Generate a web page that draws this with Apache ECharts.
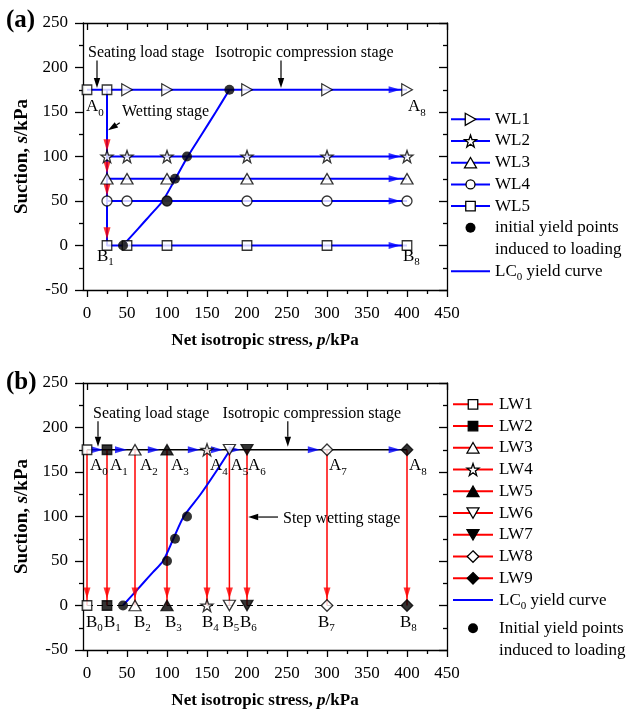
<!DOCTYPE html>
<html>
<head>
<meta charset="utf-8">
<script src="https://cdn.jsdelivr.net/npm/echarts@6/dist/echarts.min.js"></script>
<style>
  html, body { margin: 0; padding: 0; background: #fff; }
  #chart { width: 627px; height: 712px; }
</style>
</head>
<body>
<div id="chart"></div>
<script>
// ---------------- data ----------------
// tick values of the net isotropic stress axis (kPa)
const xMajorTicks = [0, 50, 100, 150, 200, 250, 300, 350, 400, 450];
const xMinorTicks = [25, 75, 125, 175, 225, 275, 325, 375, 425];

// (a) seating load stage common to all WL tests
const seatingP = [0, 25];
const seatingS = [175, 175];
// (a) wetting then isotropic loading paths
const wl1P = [25, 50, 100, 200, 300, 400];
const wl1S = [175, 175, 175, 175, 175, 175];
const wl2P = [25, 25, 50, 100, 200, 300, 400];
const wl2S = [175, 100, 100, 100, 100, 100, 100];
const wl3P = [25, 25, 50, 100, 200, 300, 400];
const wl3S = [175, 75, 75, 75, 75, 75, 75];
const wl4P = [25, 25, 50, 100, 200, 300, 400];
const wl4S = [175, 50, 50, 50, 50, 50, 50];
const wl5P = [25, 25, 50, 100, 200, 300, 400];
const wl5S = [175, 0, 0, 0, 0, 0, 0];
// (a) direction arrows (arrow tip positions)
const wetArrowP_a = [25, 25, 25, 25];
const wetArrowS_a = [106, 81, 56, 7];
const loadArrowP_a = [392, 392, 392, 392, 392];
const loadArrowS_a = [175, 100, 75, 50, 0];
// (a) initial yield points and LC0 yield curve
const yieldP_a = [45, 100, 110, 125, 178];
const yieldS_a = [0, 50, 75, 100, 175];
const lcP_a = [45, 57.5, 70, 82.5, 94.5, 110.5, 126, 143.5, 161, 178];
const lcS_a = [0, 12.5, 25, 37.5, 50, 75, 100, 125, 150, 175];

// (b) loading to a target stress, then step wetting (LW1 ... LW9)
const lwP = [0, 25, 60, 150, 100, 178, 200, 300, 400];
const lwStartS = [175, 175, 175, 175, 175, 175, 175, 175, 175];
const lwEndS = [0, 0, 0, 0, 0, 0, 0, 0, 0];
const loadPathP = [0, 400];
const loadPathS = [175, 175];
const saturatedP = [0, 400];
const saturatedS = [0, 0];
const loadArrowP_b = [20, 50, 91, 141, 170, 192, 291, 392];
const loadArrowS_b = [175, 175, 175, 175, 175, 175, 175, 175];
const wetArrowS_b = [8, 8, 8, 8, 8, 8, 8, 8, 8];
const yieldP_b = [45, 100, 110, 125];
const yieldS_b = [0, 50, 75, 100];
const lcP_b = [45, 57.5, 70, 82.5, 95, 108, 121, 142, 161, 179];
const lcS_b = [0, 12.5, 25, 37.5, 50, 75, 100, 125, 150, 175];

// ---------------- styling ----------------
const FONT = '"Liberation Serif", "Times New Roman", serif';
const BLUE = '#0000ff', RED = '#ff0000', BLACK = '#000000';
const AX = { color: BLACK, width: 1.3 };

const zip = (p, s) => p.map((v, i) => [v, s[i]]);

// marker outlines, normalised to a unit box
const SHAPES = {
  square: [[0, 0], [1, 0], [1, 1], [0, 1]],
  upTri: [[0.5, 0], [1, 1], [0, 1]],
  downTri: [[0, 0], [1, 0], [0.5, 1]],
  rightTri: [[0, 0], [1, 0.5], [0, 1]],
  diamond: [[0.5, 0], [1, 0.5], [0.5, 1], [0, 0.5]],
  star: [[0.5, 0], [0.6237, 0.3739], [1, 0.382], [0.7, 0.6211], [0.809, 1],
         [0.5, 0.7739], [0.191, 1], [0.3, 0.6211], [0, 0.382], [0.3763, 0.3739]]
};
const SIZE = {
  square: [9.5, 9.5], upTri: [12, 10.5], downTri: [12, 10.5], rightTri: [10.5, 12],
  diamond: [11.5, 11.5], star: [12, 12], circle: [10, 10]
};
function symbolOf(shape) {
  if (shape === 'circle') return 'circle';
  return 'path://M' + SHAPES[shape].map(p => (p[0] * 100).toFixed(2) + ',' + (p[1] * 100).toFixed(2)).join(' L') + ' Z';
}
const ARROW_RIGHT = 'path://M0,0 L10,5 L0,10 Z';
const ARROW_DOWN = 'path://M0,0 L10,0 L5,10 Z';

// ---------------- axes ----------------
const nameRich = (size) => ({
  b: { fontFamily: FONT, fontSize: size, fontWeight: 'bold', color: BLACK },
  i: { fontFamily: FONT, fontSize: size, fontWeight: 'bold', fontStyle: 'italic', color: BLACK }
});

function xAxesFor(gridIndex) {
  const base = {
    gridIndex, type: 'value', min: -5, max: 450,
    splitLine: { show: false }, axisLabel: { show: false },
    axisLine: { show: false, onZero: false }, axisTick: { show: false }
  };
  return [
    Object.assign({}, base, {
      position: 'bottom',
      axisLine: { show: true, onZero: false, lineStyle: AX },
      axisTick: { show: true, customValues: xMajorTicks, length: 7, lineStyle: AX },
      axisLabel: { show: true, customValues: xMajorTicks, margin: 15, color: BLACK, fontFamily: FONT, fontSize: 17 },
      name: '{b|Net isotropic stress, }{i|p}{b|/kPa}',
      nameLocation: 'middle', nameGap: 42,
      nameTextStyle: { fontFamily: FONT, fontSize: 17, fontWeight: 'bold', color: BLACK, rich: nameRich(17) }
    }),
    Object.assign({}, base, {
      position: 'bottom',
      axisTick: { show: true, customValues: xMinorTicks, length: 4, lineStyle: AX }
    }),
    Object.assign({}, base, {
      position: 'top',
      axisLine: { show: true, onZero: false, lineStyle: AX },
      axisTick: { show: true, inside: true, customValues: xMajorTicks, length: 7, lineStyle: AX }
    }),
    Object.assign({}, base, {
      position: 'top',
      axisTick: { show: true, inside: true, customValues: xMinorTicks, length: 4, lineStyle: AX }
    })
  ];
}

function yAxesFor(gridIndex) {
  const base = {
    gridIndex, type: 'value', min: -50, max: 250, interval: 50,
    splitLine: { show: false }, minorSplitLine: { show: false },
    axisLine: { show: true, onZero: false, lineStyle: AX }
  };
  return [
    Object.assign({}, base, {
      position: 'left',
      axisTick: { show: true, length: 8, lineStyle: AX },
      minorTick: { show: true, splitNumber: 2, length: 4, lineStyle: AX },
      axisLabel: { margin: 15, color: BLACK, fontFamily: FONT, fontSize: 17 },
      name: '{b|Suction, }{i|s}{b|/kPa}',
      nameLocation: 'middle', nameGap: 45, nameRotate: 90,
      nameTextStyle: { fontFamily: FONT, fontSize: 19, fontWeight: 'bold', color: BLACK, rich: nameRich(19) }
    }),
    Object.assign({}, base, {
      position: 'right',
      axisTick: { show: true, inside: true, length: 8, lineStyle: AX },
      minorTick: { show: true, splitNumber: 2, length: 4, lineStyle: AX },
      axisLabel: { show: false }
    })
  ];
}

// ---------------- series helpers ----------------
const AXA = { xAxisIndex: 0, yAxisIndex: 0 };
const AXB = { xAxisIndex: 4, yAxisIndex: 2 };

function pathLine(axes, data, color, width, extra) {
  return Object.assign({
    type: 'line', data, symbol: 'none', silent: true, z: 2,
    lineStyle: { color, width }
  }, axes, extra || {});
}
function markers(axes, data, shape, filled, z) {
  return Object.assign({
    type: 'scatter', data, silent: true, z: z || 5,
    symbol: symbolOf(shape), symbolSize: SIZE[shape],
    itemStyle: { color: filled ? BLACK : '#ffffff', borderColor: BLACK, borderWidth: 1.3 }
  }, axes);
}
function dots(axes, data) {
  return Object.assign({
    type: 'scatter', data, silent: true, z: 6,
    symbol: 'circle', symbolSize: 10, itemStyle: { color: BLACK }
  }, axes);
}
function arrows(axes, data, dir, color, size) {
  const right = dir === 'right';
  return Object.assign({
    type: 'scatter', data, silent: true, z: 4,
    symbol: right ? ARROW_RIGHT : ARROW_DOWN,
    symbolSize: right ? [size[0], size[1]] : [size[1], size[0]],
    symbolOffset: right ? [-size[0] / 2, 0] : [0, -size[0] / 2],
    itemStyle: { color }
  }, axes);
}

// (a) series
const wlDefs = [
  { name: 'WL1', p: wl1P, s: wl1S, shape: 'rightTri' },
  { name: 'WL2', p: wl2P, s: wl2S, shape: 'star' },
  { name: 'WL3', p: wl3P, s: wl3S, shape: 'upTri' },
  { name: 'WL4', p: wl4P, s: wl4S, shape: 'circle' },
  { name: 'WL5', p: wl5P, s: wl5S, shape: 'square' }
];
const series = [];
series.push(pathLine(AXA, zip(seatingP, seatingS), BLUE, 2));
wlDefs.forEach(d => series.push(pathLine(AXA, zip(d.p, d.s), BLUE, 2, { name: d.name })));
series.push(pathLine(AXA, zip(lcP_a, lcS_a), BLUE, 2, { name: 'LC0 yield curve', smooth: 0.3, z: 3 }));
series.push(arrows(AXA, zip(loadArrowP_a, loadArrowS_a), 'right', BLUE, [12, 7]));
series.push(arrows(AXA, zip(wetArrowP_a, wetArrowS_a), 'down', RED, [12, 7]));
wlDefs.forEach(d => series.push(markers(AXA, zip(d.p, d.s).slice(1), d.shape, false)));
series.push(markers(AXA, zip(seatingP, seatingS), 'square', false, 5));
series.push(dots(AXA, zip(yieldP_a, yieldS_a)));

// (b) series
const lwStyle = [
  { name: 'LW1', shape: 'square', filled: false },
  { name: 'LW2', shape: 'square', filled: true },
  { name: 'LW3', shape: 'upTri', filled: false },
  { name: 'LW4', shape: 'star', filled: false },
  { name: 'LW5', shape: 'upTri', filled: true },
  { name: 'LW6', shape: 'downTri', filled: false },
  { name: 'LW7', shape: 'downTri', filled: true },
  { name: 'LW8', shape: 'diamond', filled: false },
  { name: 'LW9', shape: 'diamond', filled: true }
];
series.push(pathLine(AXB, zip(loadPathP, loadPathS), BLACK, 1.4));
series.push(pathLine(AXB, zip(saturatedP, saturatedS), BLACK, 1.2, { lineStyle: { color: BLACK, width: 1.2, type: [6, 4] } }));
lwStyle.forEach((st, i) => {
  series.push(pathLine(AXB, [[lwP[i], lwStartS[i]], [lwP[i], lwEndS[i]]], RED, 1.5, { name: st.name, z: 3 }));
});
series.push(pathLine(AXB, zip(lcP_b, lcS_b), BLUE, 2, { name: 'LC0 yield curve', smooth: 0.3, z: 3 }));
series.push(arrows(AXB, zip(loadArrowP_b, loadArrowS_b), 'right', BLUE, [12, 7]));
series.push(arrows(AXB, zip(lwP, wetArrowS_b), 'down', RED, [11, 7]));
lwStyle.forEach((st, i) => {
  series.push(markers(AXB, [[lwP[i], lwStartS[i]], [lwP[i], lwEndS[i]]], st.shape, st.filled));
});
series.push(dots(AXB, zip(yieldP_b, yieldS_b)));

const option = {
  animation: false,
  backgroundColor: '#ffffff',
  textStyle: { fontFamily: FONT },
  grid: [
    { left: 83, top: 23, width: 364, height: 267 },
    { left: 83, top: 383, width: 364, height: 267 }
  ],
  xAxis: [...xAxesFor(0), ...xAxesFor(1)],
  yAxis: [...yAxesFor(0), ...yAxesFor(1)],
  series
};

const chart = echarts.init(document.getElementById('chart'), null, { renderer: 'canvas', width: 627, height: 712 });
chart.setOption(option);

// ---------------- annotations, panel labels, legends ----------------
const toPx = (axes, p, s) => chart.convertToPixel(axes, [p, s]);
const g = [];

function textEl(x, y, text, extra) {
  return {
    type: 'text', z: 20, silent: true,
    style: Object.assign({
      text, x, y, fontFamily: FONT, fontSize: 16, fill: BLACK,
      align: 'left', verticalAlign: 'middle'
    }, extra || {})
  };
}
function subRich(size) {
  return {
    m: { fontFamily: FONT, fontSize: size, lineHeight: 23, fill: BLACK },
    s: { fontFamily: FONT, fontSize: Math.round(size * 0.65), lineHeight: 12, verticalAlign: 'bottom', fill: BLACK }
  };
}
function subText(x, y, main, sub, size, tail) {
  const t = '{m|' + main + '}{s|' + sub + '}' + (tail ? '{m|' + tail + '}' : '');
  return textEl(x, y, t, { fontSize: size, rich: subRich(size) });
}
function arrowEls(from, to) {
  const dx = to[0] - from[0], dy = to[1] - from[1];
  const len = Math.hypot(dx, dy), ux = dx / len, uy = dy / len;
  const hl = 10, hw = 3.2;
  const bx = to[0] - ux * hl, by = to[1] - uy * hl;
  return [
    { type: 'line', z: 20, silent: true, shape: { x1: from[0], y1: from[1], x2: bx, y2: by }, style: { stroke: BLACK, lineWidth: 1.2 } },
    { type: 'polygon', z: 20, silent: true, shape: { points: [to, [bx - uy * hw, by + ux * hw], [bx + uy * hw, by - ux * hw]] }, style: { fill: BLACK } }
  ];
}
function markerEl(shape, cx, cy, filled) {
  const [w, h] = SIZE[shape];
  const style = { fill: filled ? BLACK : '#ffffff', stroke: BLACK, lineWidth: 1.3 };
  if (shape === 'circle') return { type: 'circle', z: 21, silent: true, shape: { cx, cy, r: w / 2 - 0.5 }, style };
  const pts = SHAPES[shape].map(([u, v]) => [cx - w / 2 + u * w, cy - h / 2 + v * h]);
  return { type: 'polygon', z: 21, silent: true, shape: { points: pts }, style };
}
function legendLine(x0, x1, y, color) {
  return { type: 'line', z: 20, silent: true, shape: { x1: x0, y1: y, x2: x1, y2: y }, style: { stroke: color, lineWidth: 2 } };
}

// panel tags
g.push(textEl(6, 21, '(a)', { fontSize: 25, fontWeight: 'bold' }));
g.push(textEl(6, 383, '(b)', { fontSize: 25, fontWeight: 'bold' }));

// (a) stage notes
[
  { t: 'Seating load stage', p: 1.25, s: 216 },
  { t: 'Isotropic compression stage', p: 160, s: 216 },
  { t: 'Wetting stage', p: 43.75, s: 150 }
].forEach(a => { const q = toPx(AXA, a.p, a.s); g.push(textEl(q[0], q[1], a.t)); });
[
  { from: [12.5, 208], to: [12.5, 177] },
  { from: [242.5, 208], to: [242.5, 177] },
  { from: [41, 138], to: [26.3, 129.4] }
].forEach(a => g.push(...arrowEls(toPx(AXA, a.from[0], a.from[1]), toPx(AXA, a.to[0], a.to[1]))));

// (a) state labels
[
  { m: 'A', k: '0', p: 0, s: 175, dx: -1, dy: 17 },
  { m: 'A', k: '8', p: 400, s: 175, dx: 1, dy: 17 },
  { m: 'B', k: '1', p: 25, s: 0, dx: -10, dy: 11 },
  { m: 'B', k: '8', p: 400, s: 0, dx: -4, dy: 11 }
].forEach(l => { const q = toPx(AXA, l.p, l.s); g.push(subText(q[0] + l.dx, q[1] + l.dy, l.m, l.k, 17)); });

// (b) stage notes
[
  { t: 'Seating load stage', p: 7.5, s: 215 },
  { t: 'Isotropic compression stage', p: 169.5, s: 215 },
  { t: 'Step wetting stage', p: 245, s: 97 }
].forEach(a => { const q = toPx(AXB, a.p, a.s); g.push(textEl(q[0], q[1], a.t)); });
[
  { from: [13.75, 207], to: [13.75, 178.5] },
  { from: [251, 207], to: [251, 178.5] },
  { from: [238.75, 99.4], to: [201.5, 99.4] }
].forEach(a => g.push(...arrowEls(toPx(AXB, a.from[0], a.from[1]), toPx(AXB, a.to[0], a.to[1]))));

// (b) state labels A0..A8 / B0..B8 in order of stress
const abP = [...lwP].sort((a, b) => a - b);
const aDx = [3, 3, 5, 4, 3, 1, 1, 2, 2];
const bDx = [-1, -3, -1, -2, -5, -7, -7, -9, -7];
abP.forEach((p, i) => {
  const qa = toPx(AXB, p, 175);
  g.push(subText(qa[0] + aDx[i], qa[1] + 16, 'A', String(i), 17));
  const qb = toPx(AXB, p, 0);
  g.push(subText(qb[0] + bDx[i], qb[1] + 17, 'B', String(i), 17));
});

// legend (a)
(function () {
  const x0 = 451, x1 = 490, tx = 495, y0 = 119.3, dy = 21.7;
  wlDefs.forEach((d, i) => {
    const y = y0 + i * dy;
    g.push(legendLine(x0, x1, y, BLUE));
    g.push(markerEl(d.shape, (x0 + x1) / 2, y, false));
    g.push(textEl(tx, y, d.name, { fontSize: 17 }));
  });
  const yd = y0 + 5 * dy;
  g.push({ type: 'circle', z: 21, silent: true, shape: { cx: (x0 + x1) / 2, cy: yd, r: 5 }, style: { fill: BLACK } });
  g.push(textEl(tx, yd, 'initial yield points', { fontSize: 17 }));
  g.push(textEl(tx, yd + dy, 'induced to loading', { fontSize: 17 }));
  g.push(legendLine(x0, x1, yd + 2 * dy, BLUE));
  g.push(subText(tx, yd + 2 * dy, 'LC', '0', 17, ' yield curve'));
})();

// legend (b)
(function () {
  const x0 = 453, x1 = 493, tx = 499, y0 = 404.3, dy = 21.75;
  lwStyle.forEach((st, i) => {
    const y = y0 + i * dy;
    g.push(legendLine(x0, x1, y, RED));
    g.push(markerEl(st.shape, (x0 + x1) / 2, y, st.filled));
    g.push(textEl(tx, y, st.name, { fontSize: 17 }));
  });
  const yl = y0 + 9 * dy;
  g.push(legendLine(x0, x1, yl, BLUE));
  g.push(subText(tx, yl, 'LC', '0', 17, ' yield curve'));
  const yd = 628.3;
  g.push({ type: 'circle', z: 21, silent: true, shape: { cx: (x0 + x1) / 2, cy: yd, r: 5 }, style: { fill: BLACK } });
  g.push(textEl(tx, yd, 'Initial yield points', { fontSize: 17 }));
  g.push(textEl(tx, yd + dy, 'induced to loading', { fontSize: 17 }));
})();

chart.setOption({ graphic: g });
</script>
</body>
</html>
